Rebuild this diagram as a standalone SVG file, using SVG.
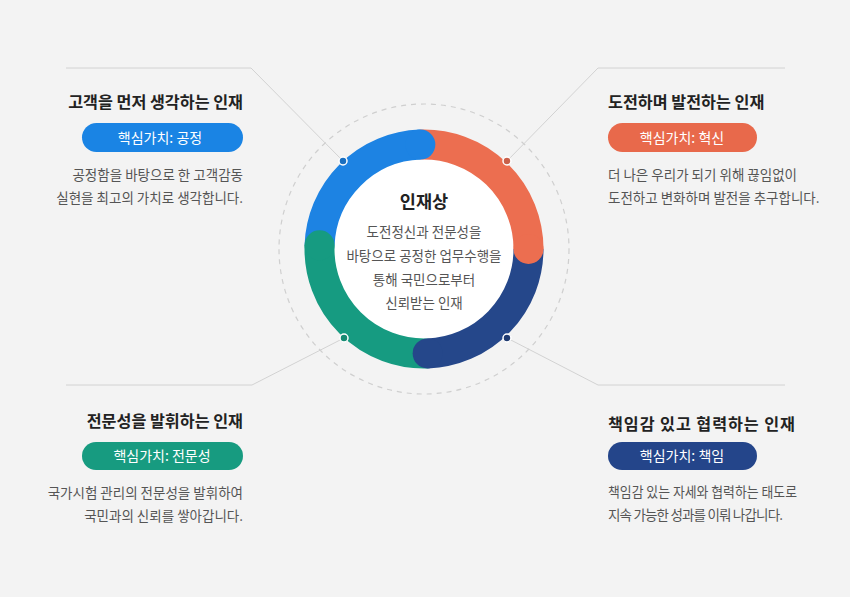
<svg xmlns="http://www.w3.org/2000/svg" width="850" height="597" viewBox="0 0 850 597">
<style>
text{font-family:"Noto Sans CJK KR","Noto Sans",sans-serif}
.title{font-size:16.2px;font-weight:700;fill:#222}
.pill{font-size:14px;fill:#fff;text-anchor:middle}
.desc{font-size:13.5px;fill:#555}
.r{text-anchor:end}
.conn{fill:none;stroke:#d2d2d2;stroke-width:1}
.seg{fill:none;stroke-width:30}
.dot{stroke:#fff;stroke-width:1.5}
</style>
<rect width="850" height="597" fill="#f3f3f3"/>
<circle cx="424" cy="249" r="145" fill="none" stroke="#cfcfcf" stroke-width="1.2" stroke-dasharray="5 5"/>
<g id="connectors">
<polyline class="conn" points="66,68 251,68 343,161"/>
<polyline class="conn" points="785,68 598,68 507,161"/>
<polyline class="conn" points="66,385 252,385 344,338"/>
<polyline class="conn" points="785,385 598,385 507,338"/>
</g>
<g id="center">
<circle cx="424" cy="249" r="90" fill="#fff"/>
<path class="seg" stroke="#1d83e3" d="M319.56,245.35 A104.5,104.5 0 0 1 420.35,144.56"/>
<path class="seg" stroke="#ec6e50" d="M420.35,144.56 A104.5,104.5 0 0 1 528.5,249"/>
<path class="seg" stroke="#25478a" d="M528.5,249 A104.5,104.5 0 0 1 427.65,353.44"/>
<path class="seg" stroke="#169b81" d="M427.65,353.44 A104.5,104.5 0 0 1 319.56,245.35"/>
<circle cx="420.35" cy="144.56" r="15" fill="#1d83e3"/>
<circle cx="528.5" cy="249" r="15" fill="#ec6e50"/>
<circle cx="427.65" cy="353.44" r="15" fill="#25478a"/>
<circle cx="319.56" cy="245.35" r="15" fill="#169b81"/>
<circle class="dot" cx="343" cy="161" r="4" fill="#1a6fc0"/>
<circle class="dot" cx="507" cy="161" r="4" fill="#c9604a"/>
<circle class="dot" cx="344" cy="338" r="4" fill="#168a72"/>
<circle class="dot" cx="507" cy="338" r="4" fill="#1f3a70"/>
<text x="424" y="208" text-anchor="middle" font-size="17.5" font-weight="700" fill="#222">인재상</text>
<text class="desc" text-anchor="middle" x="424" y="237">도전정신과 전문성을</text>
<text class="desc" text-anchor="middle" x="424" y="261">바탕으로 공정한 업무수행을</text>
<text class="desc" text-anchor="middle" x="424" y="285">통해 국민으로부터</text>
<text class="desc" text-anchor="middle" x="424" y="308">신뢰받는 인재</text>
</g>
<g id="node-tl">
<text class="title r" x="243" y="108">고객을 먼저 생각하는 인재</text>
<rect x="82" y="123" width="161" height="29" rx="14.5" fill="#1a84e4"/>
<text class="pill" x="160" y="143">핵심가치: 공정</text>
<text class="desc r" x="243" y="180">공정함을 바탕으로 한 고객감동</text>
<text class="desc r" x="243" y="203">실현을 최고의 가치로 생각합니다.</text>
</g>
<g id="node-tr">
<text class="title" x="608" y="108">도전하며 발전하는 인재</text>
<rect x="608" y="123" width="149" height="29" rx="14.5" fill="#e8694b"/>
<text class="pill" x="682" y="143">핵심가치: 혁신</text>
<text class="desc" x="608" y="180">더 나은 우리가 되기 위해 끊임없이</text>
<text class="desc" x="608" y="203">도전하고 변화하며 발전을 추구합니다.</text>
</g>
<g id="node-bl">
<text class="title r" x="243" y="427">전문성을 발휘하는 인재</text>
<rect x="82" y="442" width="161" height="28" rx="14" fill="#179b80"/>
<text class="pill" x="162" y="461">핵심가치: 전문성</text>
<text class="desc r" x="243" y="498">국가시험 관리의 전문성을 발휘하여</text>
<text class="desc r" x="243" y="521">국민과의 신뢰를 쌓아갑니다.</text>
</g>
<g id="node-br">
<text class="title" x="608" y="430" textLength="187" lengthAdjust="spacing">책임감 있고 협력하는 인재</text>
<rect x="608" y="442" width="149" height="28" rx="14" fill="#24458a"/>
<text class="pill" x="682" y="461">핵심가치: 책임</text>
<text class="desc" x="608" y="497" font-size="12.5" textLength="189" lengthAdjust="spacingAndGlyphs">책임감 있는 자세와 협력하는 태도로</text>
<text class="desc" x="608" y="520" font-size="12.5" textLength="175" lengthAdjust="spacing">지속 가능한 성과를 이뤄 나갑니다.</text>
</g>
</svg>
